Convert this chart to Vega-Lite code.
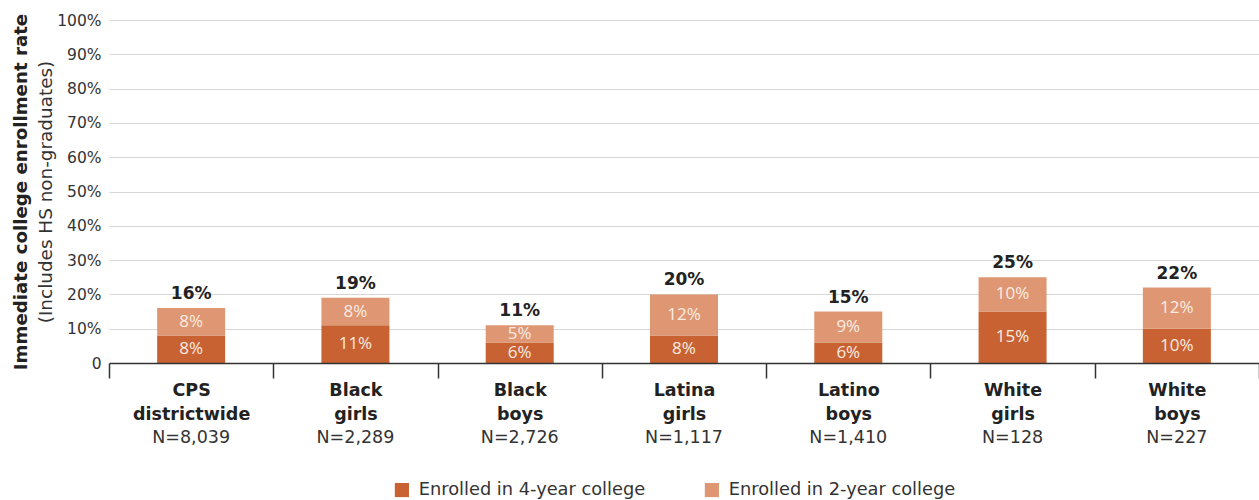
{
  "$schema": "https://vega.github.io/schema/vega-lite/v6.json",
  "width": 1150,
  "height": 343,
  "autosize": {"type": "none"},
  "padding": {"left": 109, "top": 20, "right": 0, "bottom": 137},
  "background": "#ffffff",
  "config": {
    "font": "DejaVu Sans",
    "view": {"stroke": null},
    "axis": {"labelFont": "DejaVu Sans", "titleFont": "DejaVu Sans"},
    "legend": {"labelFont": "DejaVu Sans"}
  },
  "data": {
    "values": [
      {"group": "CPS|districtwide|N=8,039", "type": "Enrolled in 4-year college", "value": 8},
      {"group": "CPS|districtwide|N=8,039", "type": "Enrolled in 2-year college", "value": 8},
      {"group": "Black|girls|N=2,289", "type": "Enrolled in 4-year college", "value": 11},
      {"group": "Black|girls|N=2,289", "type": "Enrolled in 2-year college", "value": 8},
      {"group": "Black|boys|N=2,726", "type": "Enrolled in 4-year college", "value": 6},
      {"group": "Black|boys|N=2,726", "type": "Enrolled in 2-year college", "value": 5},
      {"group": "Latina|girls|N=1,117", "type": "Enrolled in 4-year college", "value": 8},
      {"group": "Latina|girls|N=1,117", "type": "Enrolled in 2-year college", "value": 12},
      {"group": "Latino|boys|N=1,410", "type": "Enrolled in 4-year college", "value": 6},
      {"group": "Latino|boys|N=1,410", "type": "Enrolled in 2-year college", "value": 9},
      {"group": "White|girls|N=128", "type": "Enrolled in 4-year college", "value": 15},
      {"group": "White|girls|N=128", "type": "Enrolled in 2-year college", "value": 10},
      {"group": "White|boys|N=227", "type": "Enrolled in 4-year college", "value": 10},
      {"group": "White|boys|N=227", "type": "Enrolled in 2-year college", "value": 12}
    ]
  },
  "transform": [
    {"calculate": "datum.type === 'Enrolled in 4-year college' ? 0 : 1", "as": "k"},
    {"stack": "value", "groupby": ["group"], "sort": [{"field": "k", "order": "ascending"}], "as": ["v0", "v1"]},
    {"calculate": "(datum.v0 + datum.v1) / 2", "as": "mid"},
    {"calculate": "datum.value + '%'", "as": "label"},
    {"calculate": "datum.v1 + '%'", "as": "totalLabel"}
  ],
  "layer": [
    {
      "mark": {"type": "bar", "width": {"band": 0.414}},
      "encoding": {
        "x": {
          "field": "group",
          "type": "nominal",
          "sort": null,
          "scale": {"paddingInner": 0, "paddingOuter": 0},
          "axis": {
            "title": null,
            "orient": "bottom",
            "zindex": 1,
            "labelAngle": 0,
            "labelExpr": "slice(split(datum.label, '|'), 0, 2)",
            "labelFont": "DejaVu Sans",
            "labelFontSize": 17.5,
            "labelFontWeight": "bold",
            "labelColor": "#222222",
            "labelLineHeight": 24,
            "labelBaseline": "top",
            "labelPadding": 3,
            "domain": true,
            "domainColor": "#333333",
            "domainWidth": 1.5,
            "ticks": true,
            "tickBand": "extent",
            "tickSize": 15,
            "tickColor": "#333333",
            "tickWidth": 1.5,
            "grid": false
          }
        },
        "y": {
          "field": "v1",
          "type": "quantitative",
          "scale": {"domain": [0, 100], "nice": false},
          "axis": {
            "title": "(Includes HS non-graduates)",
            "titleFontSize": 18.4,
            "titleFontWeight": "normal",
            "titleColor": "#333333",
            "titlePadding": 1,
            "values": [0, 10, 20, 30, 40, 50, 60, 70, 80, 90, 100],
            "labelExpr": "datum.value == 0 ? '0' : datum.value + '%'",
            "labelFontSize": 15.5,
            "labelColor": "#333333",
            "labelPadding": 8,
            "ticks": false,
            "domain": false,
            "grid": true,
            "gridColor": "#d6d6d6",
            "gridWidth": 1
          }
        },
        "y2": {"field": "v0"},
        "color": {
          "field": "type",
          "type": "nominal",
          "scale": {
            "domain": ["Enrolled in 4-year college", "Enrolled in 2-year college"],
            "range": ["#c86232", "#de9772"]
          },
          "legend": {
            "title": null,
            "orient": "none",
            "direction": "horizontal",
            "legendX": 284,
            "legendY": 461,
            "symbolType": "square",
            "symbolSize": 200,
            "symbolStrokeWidth": 0,
            "labelFontSize": 17.8,
            "labelColor": "#333333",
            "labelLimit": 0,
            "labelOffset": 8,
            "columnPadding": 57
          }
        }
      }
    },
    {
      "mark": {"type": "text", "font": "Open Sans", "fontSize": 17, "color": "#fbece3", "baseline": "middle", "align": "center"},
      "encoding": {
        "x": {
          "field": "group",
          "type": "nominal",
          "sort": null,
          "axis": {
            "title": null,
            "orient": "bottom",
            "labelAngle": 0,
            "labelExpr": "split(datum.label, '|')[2]",
            "labelFontSize": 17.5,
            "labelColor": "#333333",
            "labelBaseline": "top",
            "labelPadding": 65,
            "domain": false,
            "ticks": false,
            "grid": false
          }
        },
        "y": {
          "field": "mid",
          "type": "quantitative",
          "axis": {
            "title": "Immediate college enrollment rate",
            "titleFontSize": 18.2,
            "titleFontWeight": "bold",
            "titleColor": "#222222",
            "titlePadding": 79,
            "orient": "left",
            "labels": false,
            "ticks": false,
            "domain": false,
            "grid": false
          }
        },
        "text": {"field": "label"}
      }
    },
    {
      "transform": [{"filter": "datum.k === 1"}],
      "mark": {"type": "text", "fontSize": 17, "fontWeight": "bold", "color": "#222222", "baseline": "bottom", "align": "center", "dy": -5},
      "encoding": {
        "x": {"field": "group", "type": "nominal", "sort": null, "axis": null},
        "y": {"field": "v1", "type": "quantitative", "axis": null},
        "text": {"field": "totalLabel"}
      }
    }
  ],
  "resolve": {"axis": {"x": "independent", "y": "independent"}}
}
